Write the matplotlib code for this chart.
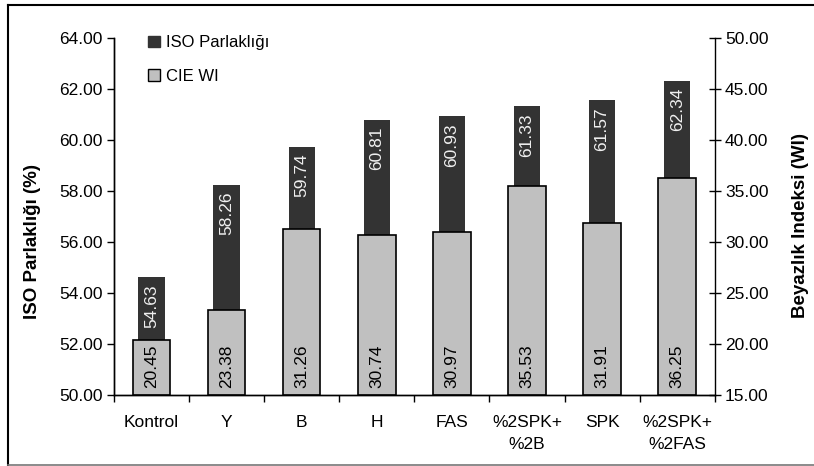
import matplotlib
matplotlib.use("Agg")
import matplotlib.pyplot as plt
from matplotlib.patches import Patch
from matplotlib.lines import Line2D

plt.rcParams['font.family'] = ['Liberation Sans', 'DejaVu Sans']

categories = ["Kontrol", "Y", "B", "H", "FAS", "%2SPK+\n%2B", "SPK", "%2SPK+\n%2FAS"]
iso_brightness = [54.63, 58.26, 59.74, 60.81, 60.93, 61.33, 61.57, 62.34]
cie_wi = [20.45, 23.38, 31.26, 30.74, 30.97, 35.53, 31.91, 36.25]
left_ticks = [50, 52, 54, 56, 58, 60, 62, 64]
right_ticks = [15, 20, 25, 30, 35, 40, 45, 50]

dark = "#333333"
grey = "#c0c0c0"
fs = 12.5

fig = plt.figure(figsize=(8.14, 4.66), dpi=100)
ax = fig.add_axes([0.140, 0.152, 0.738, 0.766])
ax2 = ax.twinx()

x = list(range(len(categories)))

# ISO brightness (left axis), narrow dark bars behind
ax.bar(x, [v - 50 for v in iso_brightness], bottom=50, width=0.35,
       color=dark, edgecolor="none", zorder=2)
for xi, v in zip(x, iso_brightness):
    ax.annotate(f"{v:.2f}", (xi, v), xytext=(0, -5), textcoords="offset points",
                rotation=90, ha="center", va="top", color="#f0f0f0", fontsize=fs)

# CIE WI (right axis), wider grey bars in front
ax2.bar(x, [v - 15 for v in cie_wi], bottom=15, width=0.5,
        color=grey, edgecolor="black", linewidth=1.2, zorder=2)
for xi, v in zip(x, cie_wi):
    ax2.annotate(f"{v:.2f}", (xi, 15), xytext=(0, 5), textcoords="offset points",
                 rotation=90, ha="center", va="bottom", color="black", fontsize=fs)

ax.set_xlim(-0.5, len(categories) - 0.5)
ax.set_ylim(50, 64)
ax2.set_ylim(15, 50)
ax.set_yticks(left_ticks)
ax.set_yticklabels([f"{t:.2f}" for t in left_ticks], fontsize=fs)
ax2.set_yticks(right_ticks)
ax2.set_yticklabels([f"{t:.2f}" for t in right_ticks], fontsize=fs)

# category boundaries carry the tick marks, centres carry the labels
ax.set_xticks([i - 0.5 for i in range(len(categories) + 1)])
ax.set_xticklabels([])
ax.set_xticks(x, minor=True)
ax.set_xticklabels(categories, minor=True, fontsize=fs, linespacing=1.65)
ax.tick_params(axis="x", which="major", direction="out", length=5, width=1)
ax.tick_params(axis="x", which="minor", length=0, pad=14)
ax.tick_params(axis="y", direction="out", length=5, width=1, pad=3)
ax2.tick_params(axis="y", direction="inout", length=9, width=1, pad=3)

for a in (ax, ax2):
    a.spines["top"].set_visible(False)
    for s in ("left", "right", "bottom"):
        a.spines[s].set_linewidth(1)
ax.spines["right"].set_visible(False)

ax.set_ylabel("ISO Parlaklığı (%)", fontsize=13.5, fontweight="bold")
ax.yaxis.set_label_coords(-0.122, 0.43)
ax2.set_ylabel("Beyazlık Indeksi (WI)", fontsize=13.5, fontweight="bold")
ax2.yaxis.set_label_coords(1.128, 0.475)

handles = [Patch(facecolor=dark, edgecolor=dark, label="ISO Parlaklığı"),
           Patch(facecolor=grey, edgecolor="black", label="CIE WI")]
ax.legend(handles=handles, loc="upper left", bbox_to_anchor=(0.032, 1.05),
          frameon=False, fontsize=12, handlelength=0.7, handleheight=0.7,
          handletextpad=0.35, labelspacing=1.1)

# outer chart frame
fig.add_artist(Line2D([0.010, 0.010], [0.002, 0.989], color="black", lw=1.5,
                      transform=fig.transFigure))
fig.add_artist(Line2D([0.010, 1.0], [0.989, 0.989], color="black", lw=1.5,
                      transform=fig.transFigure))
fig.add_artist(Line2D([0.010, 1.0], [0.003, 0.003], color="#777777", lw=1.2,
                      transform=fig.transFigure))

fig.savefig("out.png", dpi=100)
